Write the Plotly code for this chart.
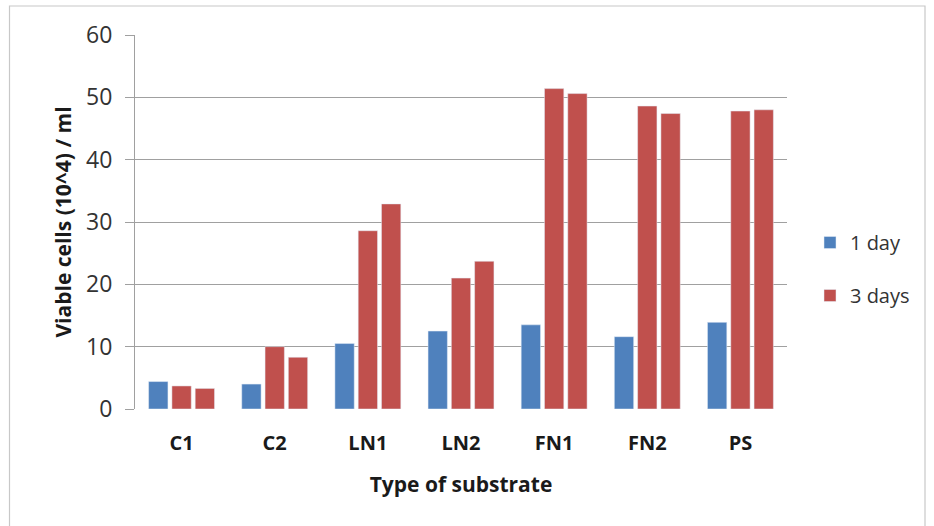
import plotly.graph_objects as go

categories = ["C1", "C2", "LN1", "LN2", "FN1", "FN2", "PS"]
day1 = [4.4, 4.0, 10.5, 12.5, 13.5, 11.6, 13.9]
day3_a = [3.7, 10.0, 28.6, 21.0, 51.4, 48.6, 47.8]
day3_b = [3.3, 8.3, 32.9, 23.7, 50.6, 47.4, 48.0]
y_ticks = [0, 10, 20, 30, 40, 50, 60]

BLUE = "#4F81BD"
RED = "#C0504D"
FONT = "Open Sans"

fig = go.Figure()
fig.add_trace(go.Bar(x=categories, y=day1, name="1 day", marker_color=BLUE,
                     legendgroup="a"))
fig.add_trace(go.Bar(x=categories, y=day3_a, name="3 days", marker_color=RED,
                     legendgroup="b"))
fig.add_trace(go.Bar(x=categories, y=day3_b, name="3 days", marker_color=RED,
                     legendgroup="b", showlegend=False))

W, H = 934, 526
L, R, T, B = 135, 787, 35, 409
pw, ph = R - L, B - T

def px(xp):
    return (xp - L) / pw

def py(yp):
    return (B - yp) / ph

fig.update_layout(
    width=W, height=H,
    margin=dict(l=L, r=W - R, t=T, b=H - B, autoexpand=False),
    paper_bgcolor="white", plot_bgcolor="white",
    barmode="group", bargap=0.25, bargroupgap=0.17,
    font=dict(family=FONT, color="#333333"),
    legend=dict(x=px(810), y=py(269), xanchor="left", yanchor="middle",
                font=dict(size=20, family=FONT, color="#333333"),
                tracegroupgap=24, bgcolor="rgba(0,0,0,0)"),
    xaxis=dict(
        showgrid=False, showline=False, ticks="",
        ticklabelstandoff=20,
        tickfont=dict(size=20, family=FONT, color="#1a1a1a", weight="bold"),
        title=dict(text="Type of substrate", standoff=22,
                   font=dict(size=21, family=FONT, color="#1a1a1a", weight="bold")),
        automargin=False,
    ),
    yaxis=dict(
        range=[0, 60], tickvals=y_ticks, showgrid=True, gridcolor="#a0a0a0",
        gridwidth=1.2, showline=True, linecolor="#a0a0a0", linewidth=1.2,
        ticks="outside", ticklen=9, tickcolor="#a0a0a0", tickwidth=1.2,
        ticklabelstandoff=8,
        tickfont=dict(size=23, family=FONT, color="#333333"),
        title=dict(text="Viable cells (10^4) / ml", standoff=8,
                   font=dict(size=21, family=FONT, color="#1a1a1a", weight="bold")),
        zeroline=False, automargin=False,
    ),
    shapes=[dict(type="rect", xref="paper", yref="paper",
                 x0=px(9.5), x1=px(925), y0=py(540), y1=py(6),
                 line=dict(color="#c8c8c8", width=1.2), fillcolor="rgba(0,0,0,0)",
                 layer="below")],
)

fig.write_html("out.html")
